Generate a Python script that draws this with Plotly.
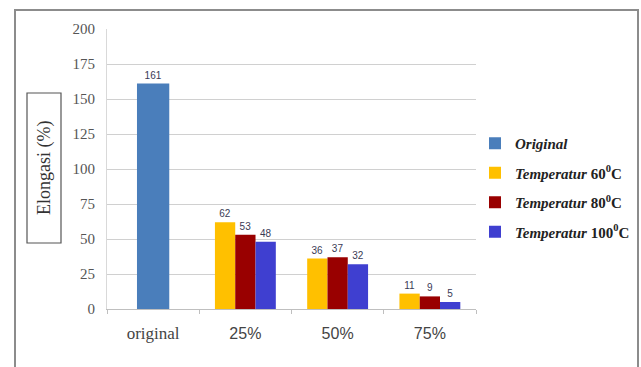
import plotly.graph_objects as go

# Elongation (%) per filler content and drying temperature
categories = ["original", "25%", "50%", "75%"]
tick_labels = [
    '<span style="font-family:Times New Roman, Liberation Serif, serif;font-size:17px">original</span>',
    "25%", "50%", "75%",
]
original_x = ["original"]
original_vals = [161]
temp_x = ["25%", "50%", "75%"]
t60_vals = [62, 36, 11]
t80_vals = [53, 37, 9]
t100_vals = [48, 32, 5]

SERIF = "Times New Roman, Liberation Serif, serif"

series = [
    ("<b><i>Original</i></b>", original_x, original_vals, "#4A7EBB", 0.35, -0.175),
    ("<b><i>Temperatur</i> 60<sup>0</sup>C</b>", temp_x, t60_vals, "#FFC000", 0.22, -0.33),
    ("<b><i>Temperatur</i> 80<sup>0</sup>C</b>", temp_x, t80_vals, "#990000", 0.22, -0.11),
    ("<b><i>Temperatur</i> 100<sup>0</sup>C</b>", temp_x, t100_vals, "#3F3FD0", 0.22, 0.11),
]

fig = go.Figure()
for i, (name, xs, ys, color, w, off) in enumerate(series):
    fig.add_trace(go.Bar(
        name=name, x=xs, y=ys,
        marker=dict(color=color, line=dict(width=0)),
        width=w, offset=off,
        text=[str(v) for v in ys], textposition="outside",
        textfont=dict(family="Liberation Sans", size=10, color="#3A3A55"),
        cliponaxis=False, legendgroup=f"g{i}",
    ))

L, R, T, B = 107, 165, 29, 58
W, H = 641, 367
pw, ph = W - L - R, H - T - B

def px_x(x):
    return (x - L) / pw

def px_y(y):
    return (H - B - y) / ph

fig.update_layout(
    width=W, height=H,
    margin=dict(l=L, r=R, t=T, b=B, autoexpand=False),
    barmode="overlay",
    paper_bgcolor="white", plot_bgcolor="white",
    showlegend=True,
    legend=dict(
        x=px_x(475), y=px_y(127), xanchor="left", yanchor="top",
        font=dict(family=SERIF, size=15, color="#222"),
        tracegroupgap=7, itemwidth=30, traceorder="grouped",
        bgcolor="rgba(0,0,0,0)",
    ),
    xaxis=dict(
        categoryorder="array", categoryarray=categories,
        tickvals=categories, ticktext=tick_labels,
        range=[-0.5, 3.5],
        showline=True, linecolor="#BFBFBF", linewidth=1,
        ticks="outside", tickson="boundaries", ticklen=4, tickcolor="#BFBFBF",
        ticklabelstandoff=10,
        tickfont=dict(family="Liberation Sans", size=16, color="#444"),
        showgrid=False,
    ),
    yaxis=dict(
        range=[0, 200], tickvals=[0, 25, 50, 75, 100, 125, 150, 175, 200],
        showgrid=True, gridcolor="#D0D0D0", gridwidth=1,
        showline=True, linecolor="#D9D9D9", linewidth=1,
        ticks="", ticklabelstandoff=8,
        tickfont=dict(family=SERIF, size=15, color="#555"),
        zeroline=False,
    ),
    shapes=[
        dict(type="rect", xref="paper", yref="paper",
             x0=px_x(15), x1=px_x(638), y0=px_y(372), y1=px_y(10),
             line=dict(color="#8C8C8C", width=2), fillcolor="rgba(0,0,0,0)"),
        dict(type="rect", xref="paper", yref="paper",
             x0=px_x(27), x1=px_x(61), y0=px_y(243), y1=px_y(93),
             line=dict(color="#555", width=1.2), fillcolor="rgba(0,0,0,0)"),
    ],
    annotations=[
        dict(text="Elongasi (%)", xref="paper", yref="paper",
             x=px_x(44), y=px_y(168), xanchor="center", yanchor="middle",
             showarrow=False, textangle=-90,
             font=dict(family=SERIF, size=18, color="#333")),
    ],
)

fig.write_html("out.html")
